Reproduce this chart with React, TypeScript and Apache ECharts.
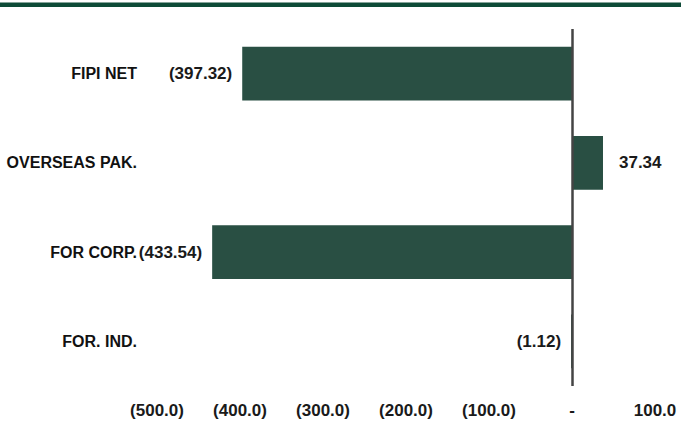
import React, { useEffect, useRef } from "react";
import * as echarts from "echarts";

const categories = ["FIPI NET", "OVERSEAS PAK.", "FOR CORP.", "FOR. IND."];
const values = [-397.32, 37.34, -433.54, -1.12];
const axisMin = -500;
const axisMax = 100;
const axisStep = 100;

const BAR = "#294f43";
const BAND = "#0e4b37";
const FONT = "'Liberation Sans', Arial, Helvetica, sans-serif";

const fmtVal = (v: number) => (v < 0 ? `(${Math.abs(v).toFixed(2)})` : v.toFixed(2));
const fmtAxis = (v: number) =>
  v === 0 ? "-" : v < 0 ? `(${Math.abs(v).toFixed(1)})` : v.toFixed(1);

export default function App() {
  const ref = useRef<HTMLDivElement>(null);
  useEffect(() => {
    if (!ref.current) return;
    const chart = echarts.init(ref.current, null, { renderer: "svg" });
    chart.setOption({
      animation: false,
      backgroundColor: "#ffffff",
      graphic: [
        {
          type: "rect",
          left: 0,
          top: 2.5,
          shape: { width: 681, height: 4.5 },
          style: { fill: BAND },
        },
      ],
      grid: { left: 157, right: 26, top: 29, bottom: 43 },
      xAxis: {
        type: "value",
        min: axisMin,
        max: axisMax,
        interval: axisStep,
        splitLine: { show: false },
        axisLine: { show: false },
        axisTick: { show: false },
        axisLabel: {
          margin: 16,
          fontFamily: FONT,
          fontWeight: "bold",
          fontSize: 17,
          color: "#1a1a1a",
          formatter: fmtAxis,
        },
      },
      yAxis: {
        type: "category",
        inverse: true,
        data: categories,
        axisLine: { show: false },
        axisTick: { show: false },
        splitLine: { show: false },
        axisLabel: {
          margin: 20,
          fontFamily: FONT,
          fontWeight: "bold",
          fontSize: 16,
          color: "#111111",
        },
      },
      series: [
        {
          type: "bar",
          barWidth: "60%",
          itemStyle: { color: BAR },
          data: values.map((v) => ({
            value: v,
            label: {
              show: true,
              position: v < 0 ? "left" : "right",
              distance: v < 0 ? 10 : 16,
              formatter: () => fmtVal(v),
              fontFamily: FONT,
              fontWeight: "bold",
              fontSize: 17,
              color: "#1a1a1a",
            },
          })),
          markLine: {
            silent: true,
            symbol: "none",
            label: { show: false },
            lineStyle: { color: "#444444", width: 2.5, type: "solid" },
            data: [{ xAxis: 0 }],
          },
        },
      ],
    });
    return () => chart.dispose();
  }, []);
  return (
    <div
      ref={ref}
      style={{ position: "fixed", left: 0, top: 0, width: 681, height: 429 }}
    />
  );
}
